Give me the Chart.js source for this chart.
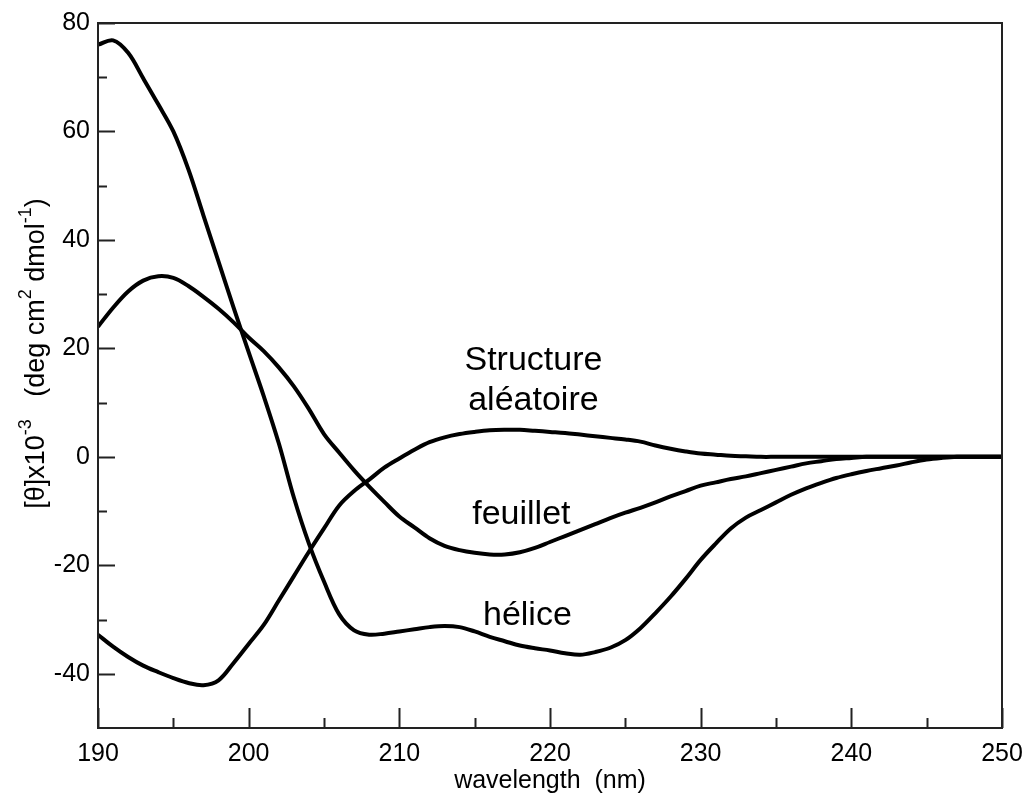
<!DOCTYPE html>
<html>
<head>
<meta charset="utf-8">
<script src="https://cdn.jsdelivr.net/npm/chart.js@4.4.1/dist/chart.umd.min.js"></script>
<style>
  html, body { margin: 0; padding: 0; background: #fff; }
  #wrap { width: 1028px; height: 796px; }
</style>
</head>
<body>
<div id="wrap"><canvas id="cdChart" width="1028" height="796"></canvas></div>
<script>
// wavelength (nm)
const wavelengths = [190, 191, 192, 193, 194, 195, 196, 197, 198, 199,
    200, 201, 202, 203, 204, 205, 206, 207, 208, 209,
    210, 211, 212, 213, 214, 215, 216, 217, 218, 219,
    220, 221, 222, 223, 224, 225, 226, 227, 228, 229,
    230, 231, 232, 233, 234, 235, 236, 237, 238, 239,
    240, 241, 242, 243, 244, 245, 246, 247, 248, 249, 250];

// [theta] x 10^-3
const helice = [76, 76.8, 74.5, 69.8, 65, 60, 53, 44.5, 36, 27.5,
    19.3, 11.2, 2.5, -7.5, -16, -23, -29, -32, -32.8, -32.6,
    -32.2, -31.8, -31.4, -31.2, -31.4, -32.2, -33.2, -34, -34.8, -35.3,
    -35.7, -36.2, -36.5, -36, -35.2, -33.8, -31.6, -28.8, -25.8, -22.5,
    -19, -16, -13.2, -11.2, -9.8, -8.4, -7, -5.8, -4.8, -3.9,
    -3.2, -2.6, -2.1, -1.6, -1, -0.5, -0.2, 0, 0, 0, 0];

const feuillet = [24, 27.5, 30.5, 32.5, 33.3, 33, 31.5, 29.5, 27.3, 24.8,
    22, 19.5, 16.5, 13, 8.8, 4.2, 0.8, -2.5, -5.5, -8.3,
    -11, -13, -15, -16.4, -17.2, -17.7, -18, -18, -17.6, -16.8,
    -15.7, -14.6, -13.5, -12.4, -11.3, -10.3, -9.4, -8.4, -7.3, -6.3,
    -5.3, -4.7, -4.1, -3.6, -3, -2.4, -1.8, -1.2, -0.8, -0.4,
    -0.2, 0, 0, 0, 0, 0, 0, 0, 0, 0, 0];

const aleatoire = [-32.8, -35, -36.9, -38.5, -39.7, -40.8, -41.7, -42.1, -41.2, -38,
    -34.5, -31, -26.5, -22, -17.5, -13.2, -9, -6.3, -4.2, -2,
    -0.3, 1.3, 2.7, 3.6, 4.2, 4.6, 4.9, 5, 5, 4.8,
    4.6, 4.4, 4.1, 3.8, 3.5, 3.2, 2.8, 2.1, 1.5, 1,
    0.6, 0.4, 0.2, 0.1, 0, 0, 0, 0, 0, 0,
    0, 0, 0, 0, 0, 0, 0, 0, 0, 0, 0];

const xTicks = [190, 200, 210, 220, 230, 240, 250];
const xMinor = [195, 205, 215, 225, 235, 245];
const yTicks = [-40, -20, 0, 20, 40, 60, 80];
const yMinor = [-30, -10, 10, 30, 50, 70];

// curve names written inside the plot: [text, wavelength, value]
const curveLabels = [
    ["Structure", 218.9, 16.0],
    ["aléatoire", 218.9, 8.6],
    ["feuillet", 218.1, -12.4],
    ["hélice", 218.5, -31.0]
];

function toPoints(values) {
    return wavelengths.map((w, i) => ({ x: w, y: values[i] }));
}

function lineSet(name, values) {
    return {
        label: name,
        data: toPoints(values),
        borderColor: "#000",
        borderWidth: 4,
        pointRadius: 0,
        tension: 0.35,
        fill: false
    };
}

const frameAndTicks = {
    id: "frameAndTicks",
    afterDraw(chart) {
        const ctx = chart.ctx;
        const area = chart.chartArea;
        const xs = chart.scales.x;
        const ys = chart.scales.y;
        ctx.save();
        ctx.strokeStyle = "#222";
        ctx.lineWidth = 2;
        ctx.strokeRect(area.left, area.top, area.right - area.left, area.bottom - area.top);

        ctx.beginPath();
        xTicks.forEach(v => {
            const px = Math.round(xs.getPixelForValue(v)) + 0.5;
            ctx.moveTo(px, area.bottom);
            ctx.lineTo(px, area.bottom - 20);
        });
        xMinor.forEach(v => {
            const px = Math.round(xs.getPixelForValue(v)) + 0.5;
            ctx.moveTo(px, area.bottom);
            ctx.lineTo(px, area.bottom - 10);
        });
        yTicks.forEach(v => {
            const py = Math.round(ys.getPixelForValue(v)) + 0.5;
            ctx.moveTo(area.left, py);
            ctx.lineTo(area.left + 17, py);
        });
        yMinor.forEach(v => {
            const py = Math.round(ys.getPixelForValue(v)) + 0.5;
            ctx.moveTo(area.left, py);
            ctx.lineTo(area.left + 9, py);
        });
        ctx.stroke();

        // curve names
        ctx.fillStyle = "#000";
        ctx.font = "34px 'Liberation Sans', Arial, sans-serif";
        ctx.textAlign = "center";
        ctx.textBaseline = "alphabetic";
        curveLabels.forEach(l => {
            ctx.fillText(l[0], xs.getPixelForValue(l[1]), ys.getPixelForValue(l[2]));
        });

        // y axis title with superscripts
        const parts = [
            ["[θ]x10", false], ["-3", true], ["   (deg cm", false], ["2", true],
            [" dmol", false], ["-1", true], [")", false]
        ];
        const bigFont = "27px 'Liberation Sans', Arial, sans-serif";
        const supFont = "18px 'Liberation Sans', Arial, sans-serif";
        let total = 0;
        parts.forEach(p => {
            ctx.font = p[1] ? supFont : bigFont;
            total += ctx.measureText(p[0]).width;
        });
        ctx.translate(44, (area.top + area.bottom) / 2 - 22);
        ctx.rotate(-Math.PI / 2);
        ctx.textAlign = "left";
        let cx = -total / 2;
        parts.forEach(p => {
            ctx.font = p[1] ? supFont : bigFont;
            ctx.fillText(p[0], cx, p[1] ? -13 : 0);
            cx += ctx.measureText(p[0]).width;
        });
        ctx.restore();
    }
};

const tickFont = { family: "'Liberation Sans', Arial, sans-serif", size: 25 };

new Chart(document.getElementById("cdChart"), {
    type: "line",
    data: {
        datasets: [
            lineSet("hélice", helice),
            lineSet("feuillet", feuillet),
            lineSet("structure aléatoire", aleatoire)
        ]
    },
    options: {
        responsive: false,
        animation: false,
        layout: { padding: { top: 23, right: 26, left: 0, bottom: 0 } },
        plugins: {
            legend: { display: false },
            tooltip: { enabled: false }
        },
        scales: {
            x: {
                type: "linear",
                min: 190,
                max: 250,
                afterBuildTicks: s => { s.ticks = xTicks.map(v => ({ value: v })); },
                afterFit: s => { s.height = 68; s.paddingLeft = 0; s.paddingRight = 0; },
                grid: { display: false, drawTicks: false },
                border: { display: false },
                ticks: { color: "#000", font: tickFont, padding: 11, maxRotation: 0 },
                title: {
                    display: true,
                    text: "wavelength  (nm)",
                    color: "#000",
                    font: tickFont,
                    padding: { top: -4, bottom: 0 }
                }
            },
            y: {
                type: "linear",
                min: -50,
                max: 80,
                afterBuildTicks: s => { s.ticks = yTicks.map(v => ({ value: v })); },
                afterFit: s => { s.width = 98; s.paddingTop = 0; s.paddingBottom = 0; },
                grid: { display: false, drawTicks: false },
                border: { display: false },
                ticks: { color: "#000", font: tickFont, padding: 8 }
            }
        }
    },
    plugins: [frameAndTicks]
});
</script>
</body>
</html>
